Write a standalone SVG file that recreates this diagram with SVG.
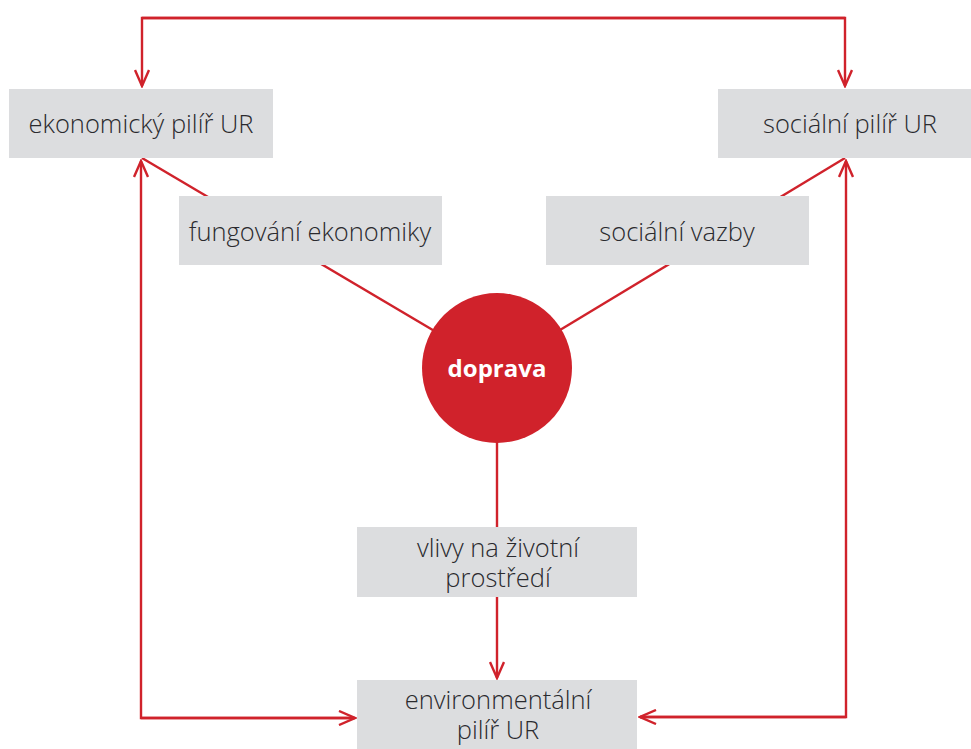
<svg xmlns="http://www.w3.org/2000/svg" width="971" height="749" viewBox="0 0 971 749">
  <style>
    .box { fill: #dcdddf; }
    .lbl { font-family: "Open Sans", "Noto Sans", sans-serif; font-size: 25.5px; font-weight: 300; fill: #2a2a2e; text-anchor: middle; }
    .wire { fill: none; stroke: #d0222b; stroke-width: 2.4; }
    .hub { fill: #d0222b; }
    .hublbl { font-family: "Open Sans", "Noto Sans", sans-serif; font-size: 24px; font-weight: 700; fill: #ffffff; text-anchor: middle; }
  </style>
  <defs>
    <marker id="arrow" viewBox="0 0 20 16" refX="18" refY="8" markerWidth="20" markerHeight="16" markerUnits="userSpaceOnUse" orient="auto">
      <path d="M2,1 L18,8 L2,15" fill="none" stroke="#d0222b" stroke-width="2.4"/>
    </marker>
  </defs>
  <rect width="971" height="749" fill="#ffffff"/>

  <!-- spokes to the hub, drawn beneath the boxes -->
  <g id="connectors">
    <path class="wire" d="M142,158 L497,368"/>
    <path class="wire" d="M845,158 L497,368"/>
    <path class="wire" d="M497,368 L497,527"/>
    <path class="wire" d="M497,597 L497,678" marker-end="url(#arrow)"/>
    <path class="wire" d="M845,18 L142,18 L142,86" marker-end="url(#arrow)"/>
    <path class="wire" d="M142,18 L845,18 L845,86" marker-end="url(#arrow)"/>
    <path class="wire" d="M354,718 L141,718 L141,161" marker-end="url(#arrow)"/>
    <path class="wire" d="M141,718 L355,718" marker-end="url(#arrow)"/>
    <path class="wire" d="M640,717 L846,717 L846,161" marker-end="url(#arrow)"/>
    <path class="wire" d="M846,717 L640,717" marker-end="url(#arrow)"/>
  </g>

  <g id="ekonomicky">
    <rect class="box" x="9" y="89" width="264" height="69"/>
    <text class="lbl" x="141" y="133">ekonomický pilíř UR</text>
  </g>
  <g id="socialni">
    <rect class="box" x="718" y="89" width="260" height="69"/>
    <text class="lbl" x="850" y="133">sociální pilíř UR</text>
  </g>
  <g id="fungovani">
    <rect class="box" x="179" y="196" width="263" height="69"/>
    <text class="lbl" x="310" y="241">fungování ekonomiky</text>
  </g>
  <g id="vazby">
    <rect class="box" x="546" y="196" width="263" height="69"/>
    <text class="lbl" x="677" y="241">sociální vazby</text>
  </g>
  <g id="doprava">
    <circle class="hub" cx="497" cy="368" r="75"/>
    <text class="hublbl" x="497" y="377">doprava</text>
  </g>
  <g id="vlivy">
    <rect class="box" x="357" y="527" width="280" height="70"/>
    <text class="lbl"><tspan x="498" y="557">vlivy na životní</tspan><tspan x="498" y="587">prostředí</tspan></text>
  </g>
  <g id="environmentalni">
    <rect class="box" x="357" y="680" width="280" height="69"/>
    <text class="lbl"><tspan x="498" y="709">environmentální</tspan><tspan x="498" y="739">pilíř UR</tspan></text>
  </g>
</svg>
